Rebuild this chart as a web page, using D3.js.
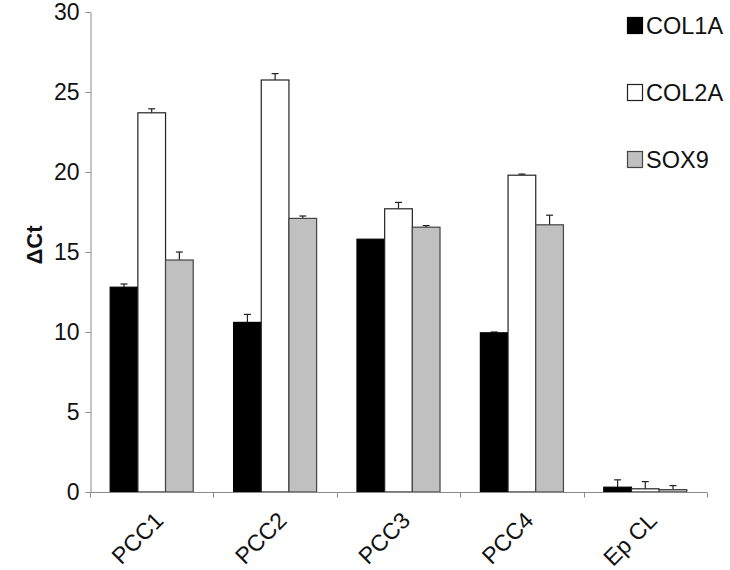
<!DOCTYPE html>
<html>
<head>
<meta charset="utf-8">
<script src="https://cdn.jsdelivr.net/npm/d3@7"></script>
<style>
  html, body { margin: 0; padding: 0; background: #fff; }
  svg { display: block; font-family: Arial, "Liberation Sans", sans-serif; }
</style>
</head>
<body>
<svg id="chart" width="730" height="570"></svg>
<script>
const categories = ["PCC1", "PCC2", "PCC3", "PCC4", "Ep CL"];
const seriesNames = ["COL1A", "COL2A", "SOX9"];
const col1a    = [12.8, 10.6, 15.8, 9.95, 0.3];
const col1aErr = [0.2, 0.5, 0, 0.05, 0.46];
const col2a    = [23.7, 25.75, 17.7, 19.8, 0.2];
const col2aErr = [0.25, 0.4, 0.4, 0.07, 0.45];
const sox9     = [14.5, 17.1, 16.55, 16.7, 0.15];
const sox9Err  = [0.5, 0.15, 0.1, 0.6, 0.25];
const yTicks = [0, 5, 10, 15, 20, 25, 30];

const fills = ["#000000", "#ffffff", "#c0c0c0"];
const strokes = ["#000000", "#222222", "#444444"];
const values = [col1a, col2a, sox9];
const errs = [col1aErr, col2aErr, sox9Err];

const svg = d3.select("#chart");
const y = d3.scaleLinear().domain([0, 30]).range([492, 12]);
const x = d3.scaleBand().domain(categories).range([90, 707]).paddingInner(0.327).paddingOuter(0.1635);
const xs = d3.scaleBand().domain(seriesNames).range([0, x.bandwidth()]);
const xb = d3.scaleBand().domain(categories).range([90, 707]);

const rows = [];
categories.forEach((c, i) => {
  seriesNames.forEach((s, j) => {
    rows.push({ cat: c, s: s, j: j, v: values[j][i], e: errs[j][i] });
  });
});

// error bars (upper only)
const eg = svg.append("g");
rows.filter(d => d.e > 0).forEach(d => {
  const cx = x(d.cat) + xs(d.s) + xs.bandwidth() / 2;
  eg.append("line").attr("x1", cx).attr("x2", cx)
    .attr("y1", y(d.v)).attr("y2", y(d.v + d.e))
    .attr("stroke", "#222").attr("stroke-width", 1.2);
  eg.append("line").attr("x1", cx - 3.5).attr("x2", cx + 3.5)
    .attr("y1", y(d.v + d.e)).attr("y2", y(d.v + d.e))
    .attr("stroke", "#222").attr("stroke-width", 1.2);
});

// bars
svg.append("g").selectAll("rect").data(rows).join("rect")
  .attr("x", d => x(d.cat) + xs(d.s))
  .attr("y", d => y(d.v))
  .attr("width", xs.bandwidth())
  .attr("height", d => y(0) - y(d.v))
  .attr("fill", d => fills[d.j])
  .attr("stroke", d => strokes[d.j])
  .attr("stroke-width", 1.2);

// y axis
const ya = svg.append("g").attr("transform", "translate(90.5,0)")
  .call(d3.axisLeft(y).tickValues(yTicks).tickSize(5).tickPadding(6).tickSizeOuter(0));
ya.select(".domain").attr("stroke", "#8a8a8a");
ya.selectAll(".tick line").attr("stroke", "#8a8a8a");
ya.selectAll(".tick text").attr("font-size", 23).attr("fill", "#111")
  .attr("font-family", "Arial, 'Liberation Sans', sans-serif");

// x axis line with boundary ticks
const xa = svg.append("g").attr("transform", "translate(0,492.5)")
  .call(d3.axisBottom(xb).tickSize(0).tickFormat(""));
xa.select(".domain").attr("stroke", "#8a8a8a").attr("d", "M90,0H707");
const bounds = categories.map(c => xb(c) + xb.step()).concat([xb(categories[0])]);
xa.selectAll(".btick").data(bounds).join("line")
  .attr("x1", d => Math.round(d) + 0.5).attr("x2", d => Math.round(d) + 0.5)
  .attr("y1", 0).attr("y2", 5).attr("stroke", "#8a8a8a");

// x labels
svg.append("g").selectAll("text").data(categories).join("text")
  .attr("transform", d => `translate(${x(d) + x.bandwidth() / 2 + 13},522) rotate(-45)`)
  .attr("text-anchor", "end")
  .attr("font-size", 23).attr("fill", "#111")
  .text(d => d);

// y label
svg.append("text")
  .attr("transform", "translate(42,245) rotate(-90)")
  .attr("text-anchor", "middle")
  .attr("font-size", 22).attr("font-weight", "bold").attr("fill", "#111")
  .text("ΔCt");

// legend
const lg = svg.append("g");
seriesNames.forEach((s, j) => {
  const ly = 17 + j * 67;
  lg.append("rect").attr("x", 627.5).attr("y", ly + 0.5).attr("width", 15).attr("height", 16)
    .attr("fill", fills[j]).attr("stroke", strokes[j]).attr("stroke-width", 1.2);
  lg.append("text").attr("x", 646).attr("y", ly + 17)
    .attr("font-size", 23.5).attr("fill", "#111").text(s);
});
</script>
</body>
</html>
